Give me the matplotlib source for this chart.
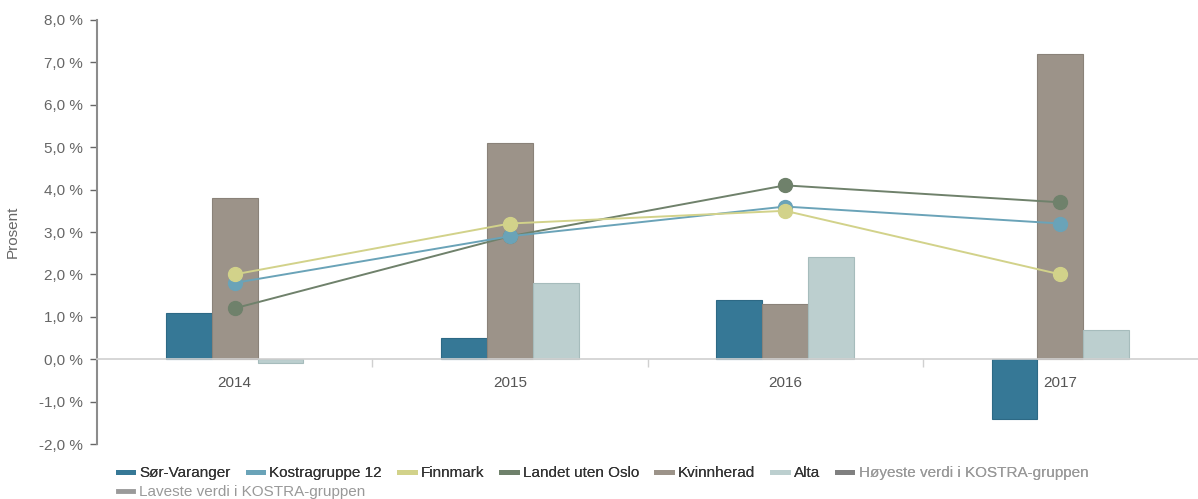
import matplotlib
matplotlib.use("Agg")
import matplotlib.pyplot as plt
from matplotlib.lines import Line2D
import numpy as np

years = ["2014", "2015", "2016", "2017"]

# bar series (percent)
sor_varanger = [1.1, 0.5, 1.4, -1.4]
kvinnherad = [3.8, 5.1, 1.3, 7.2]
alta = [-0.1, 1.8, 2.4, 0.7]

# line series (percent)
kostragruppe = [1.8, 2.9, 3.6, 3.2]
finnmark = [2.0, 3.2, 3.5, 2.0]
landet = [1.2, 2.9, 4.1, 3.7]

yticks = [-2, -1, 0, 1, 2, 3, 4, 5, 6, 7, 8]

C_SOR = "#367896"
C_KOSTRA = "#6aa3b8"
C_FINN = "#d2d28a"
C_LANDET = "#6f816b"
C_KVINN = "#9c9389"
C_ALTA = "#bccfcf"
C_HOY = "#808080"
C_LAV = "#9a9a9a"

plt.rcParams["font.family"] = ["Liberation Sans", "DejaVu Sans"]

fig = plt.figure(figsize=(11.98, 4.99), dpi=100)
ax = fig.add_axes([97 / 1198, 1 - 444 / 499, 1 - 97 / 1198, (444 - 20) / 499])

x = np.arange(len(years))
w = 1 / 6
ax.bar(x - w, sor_varanger, w, color=C_SOR, edgecolor="#2d6985", linewidth=0.8, zorder=2)
ax.bar(x, kvinnherad, w, color=C_KVINN, edgecolor="#8a8279", linewidth=0.8, zorder=2)
ax.bar(x + w, alta, w, color=C_ALTA, edgecolor="#a6bcbc", linewidth=0.8, zorder=2)

for vals, col in [(landet, C_LANDET), (kostragruppe, C_KOSTRA), (finnmark, C_FINN)]:
    ax.plot(x, vals, color=col, lw=1.4, marker="o", markersize=10, zorder=3)

ax.set_xlim(-0.5, 3.5)
ax.set_ylim(-2, 8)
ax.set_yticks(yticks)
ax.set_yticklabels([f"{v:.1f} %".replace(".", ",") for v in yticks])
ax.tick_params(axis="y", colors="#666666", labelsize=11, length=5, width=1, pad=5)
ax.set_ylabel("Prosent", color="#666666", fontsize=11, labelpad=14)

ax.spines["top"].set_visible(False)
ax.spines["right"].set_visible(False)
ax.spines["left"].set_color("#8c8c8c")
ax.spines["left"].set_linewidth(1.5)
ax.spines["bottom"].set_position(("data", 0))
ax.spines["bottom"].set_color("#d0d0d0")
ax.spines["bottom"].set_linewidth(1.2)

ax.set_xticks(x)
ax.set_xticklabels(years)
ax.set_xticks([0.5, 1.5, 2.5], minor=True)
ax.tick_params(axis="x", which="major", length=0, pad=12, labelsize=11, labelcolor="#555555")
ax.tick_params(axis="x", which="minor", length=6, color="#d0d0d0", width=1)

names = ["Sør-Varanger", "Kostragruppe 12", "Finnmark", "Landet uten Oslo",
         "Kvinnherad", "Alta", "Høyeste verdi i KOSTRA-gruppen"]
cols = [C_SOR, C_KOSTRA, C_FINN, C_LANDET, C_KVINN, C_ALTA, C_HOY]
handles = [Line2D([], [], color=c, lw=3.5) for c in cols]
leg1 = fig.legend(handles, names, loc="center left", bbox_to_anchor=(118 / 1198, 1 - 473 / 499),
                  ncol=7, frameon=False, fontsize=11, handlelength=1.0, handletextpad=0.4,
                  columnspacing=1.13, borderpad=0, borderaxespad=0)
for t in leg1.get_texts()[:6]:
    t.set_color("#333333")
leg1.get_texts()[6].set_color("#999999")

leg2 = fig.legend([Line2D([], [], color=C_LAV, lw=3.5)], ["Laveste verdi i KOSTRA-gruppen"],
                  loc="center left", bbox_to_anchor=(118 / 1198, 1 - 492 / 499),
                  frameon=False, fontsize=11, handlelength=1.0, handletextpad=0.4,
                  borderpad=0, borderaxespad=0)
leg2.get_texts()[0].set_color("#999999")
fig.add_artist(leg1)

fig.savefig("out.png", dpi=100)
